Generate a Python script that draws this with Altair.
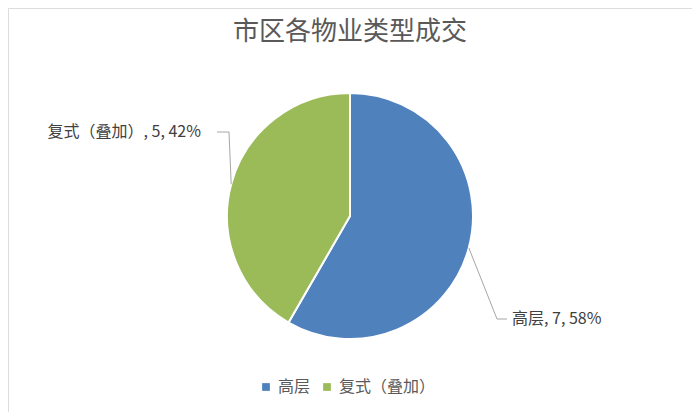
import math
import altair as alt
import pandas as pd

# ---- data ----
categories = ["高层", "复式（叠加）"]
values = [7, 5]
percents = ["58%", "42%"]
colors = ["#4F81BD", "#9BBB59"]
title_text = "市区各物业类型成交"

# ---- layout (plot-area pixels) ----
W, H = 684, 404
CX, CY, R = 342, 208, 123
# elbow offsets and label side for each slice's leader line
elbow = {"高层": (489, 311), "复式（叠加）": (221, 124)}
line_end = {"高层": (499, 311), "复式（叠加）": (209, 124)}

total = sum(values)
df = pd.DataFrame({"cat": categories, "val": values, "pct": percents,
                   "ord": list(range(len(categories)))})
df["label"] = df["cat"] + ", " + df["val"].astype(str) + ", " + df["pct"]

# leader line points derived from slice mid-angles
rows = []
lab_rows = []
cum = 0
for c, v, lab in zip(df["cat"], df["val"], df["label"]):
    mid = (cum + v / 2) / total * 2 * math.pi
    cum += v
    sx = CX + R * math.sin(mid)
    sy = CY - R * math.cos(mid)
    ex, ey = elbow[c]
    lx, ly = line_end[c]
    rows += [{"cat": c, "step": 0, "x": sx, "y": sy},
             {"cat": c, "step": 1, "x": ex, "y": ey},
             {"cat": c, "step": 2, "x": lx, "y": ly}]
    right = lx > ex
    lab_rows.append({"cat": c, "label": lab,
                     "x": lx + (5 if right else -16), "y": ly,
                     "align": "left" if right else "right"})
lines = pd.DataFrame(rows)
labs = pd.DataFrame(lab_rows)

xs = alt.Scale(domain=[0, W], range=[0, W], nice=False, zero=False)
ys = alt.Scale(domain=[0, H], range=[0, H], nice=False, zero=False)

color_scale = alt.Scale(domain=categories, range=colors)

pie = alt.Chart(df).mark_arc(outerRadius=R, stroke="white", strokeWidth=2).encode(
    theta=alt.Theta("val:Q", stack=True),
    order=alt.Order("ord:Q"),
    color=alt.Color("cat:N", scale=color_scale, sort=categories,
                    legend=alt.Legend(title=None, orient="none", direction="horizontal",
                                      legendX=250, legendY=371, symbolType="square",
                                      symbolSize=60, labelFontSize=16, labelColor="#595959",
                                      labelFont="Noto Sans CJK SC", columnPadding=8,
                                      symbolStrokeWidth=0, labelOffset=4)),
    x=alt.value(CX), y=alt.value(CY),
)

leader = alt.Chart(lines).mark_line(color="#A6A6A6", strokeWidth=1).encode(
    x=alt.X("x:Q", scale=xs, axis=None),
    y=alt.Y("y:Q", scale=ys, axis=None),
    detail="cat:N",
    order="step:Q",
)

lab_left = alt.Chart(labs[labs["align"] == "left"]).mark_text(
    align="left", baseline="middle", fontSize=16, color="#404040",
    font="Noto Sans CJK SC").encode(
    x=alt.X("x:Q", scale=xs, axis=None), y=alt.Y("y:Q", scale=ys, axis=None), text="label:N")
lab_right = alt.Chart(labs[labs["align"] == "right"]).mark_text(
    align="right", baseline="middle", fontSize=16, color="#404040",
    font="Noto Sans CJK SC").encode(
    x=alt.X("x:Q", scale=xs, axis=None), y=alt.Y("y:Q", scale=ys, axis=None), text="label:N")

title = alt.Chart(pd.DataFrame({"t": [title_text]})).mark_text(
    fontSize=26, color="#595959", font="Noto Sans CJK SC", baseline="middle",
    align="center").encode(
    x=alt.value(CX), y=alt.value(24), text="t:N")

chart = alt.layer(pie, leader, lab_left, lab_right, title).properties(
    width=W, height=H, padding=0
).configure_view(stroke="#E3E3E3").configure(background="white")

chart.save("out.html", embed_options={"renderer": "svg", "actions": False})
